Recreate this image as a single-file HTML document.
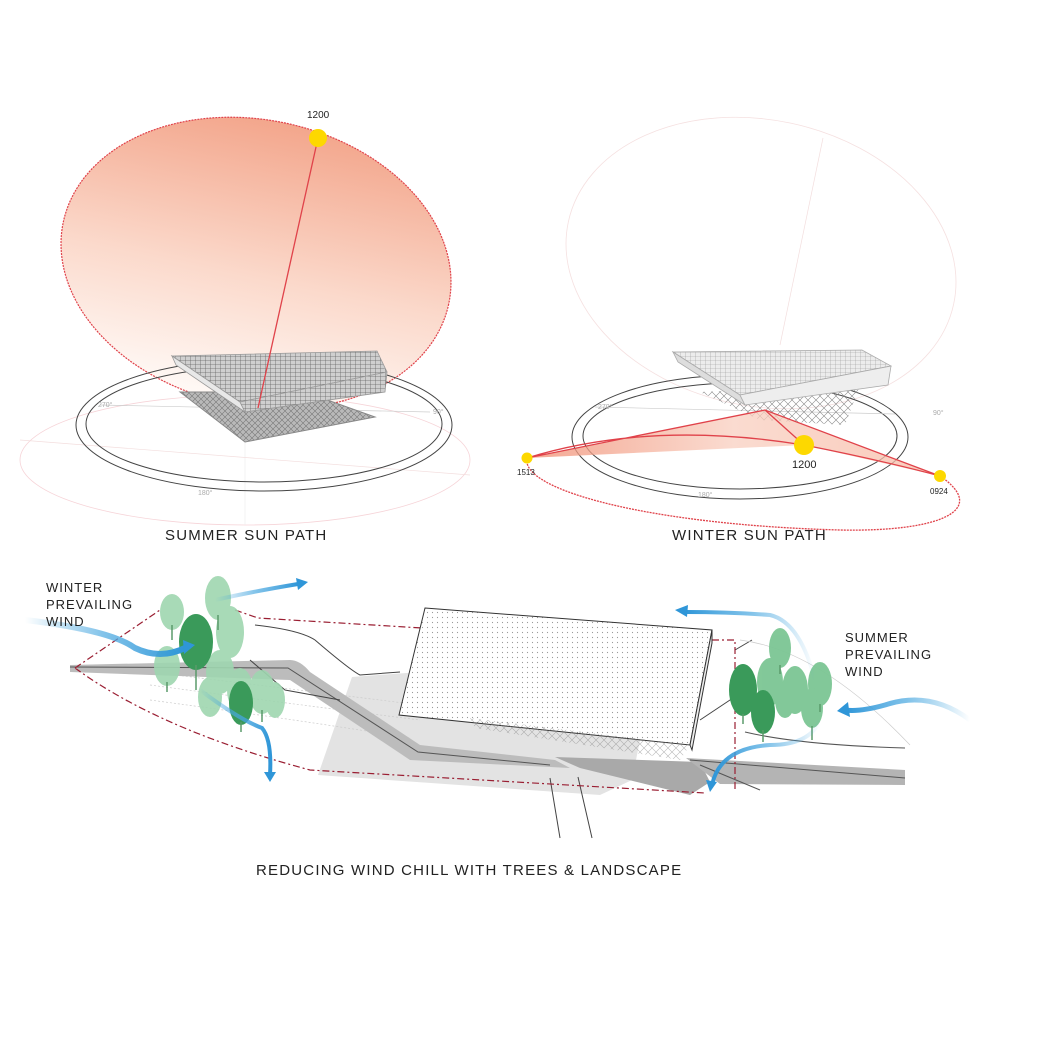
<!DOCTYPE html>
<html><head><meta charset="utf-8"><style>
html,body{margin:0;padding:0;background:#fff;}
svg{display:block;font-family:"Liberation Sans",sans-serif;}
</style></head><body>
<svg width="1040" height="1040" viewBox="0 0 1040 1040" xmlns="http://www.w3.org/2000/svg">
<defs>
<linearGradient id="sg" x1="0" y1="0" x2="0" y2="1">
<stop offset="0" stop-color="#f3a68c"/><stop offset="0.55" stop-color="#fbd9cb"/><stop offset="1" stop-color="#fffaf7"/>
</linearGradient>
<linearGradient id="wg" x1="0" y1="0" x2="1" y2="0">
<stop offset="0" stop-color="#f08a6e"/><stop offset="0.5" stop-color="#f9cfc0"/><stop offset="1" stop-color="#f7b9a4"/>
</linearGradient>
<pattern id="grid" width="5" height="4" patternUnits="userSpaceOnUse">
<rect width="5" height="4" fill="#cfcfcf"/><path d="M0 0H5M0 0V4" stroke="#666" stroke-width="0.8"/>
</pattern>
<pattern id="grid2" width="5" height="4" patternUnits="userSpaceOnUse">
<rect width="5" height="4" fill="#ececec"/><path d="M0 0H5M0 0V4" stroke="#999" stroke-width="0.6"/>
</pattern>
<pattern id="diag" width="6" height="6" patternUnits="userSpaceOnUse">
<rect width="6" height="6" fill="#b9b9b9"/><path d="M0 6L6 0M0 0L6 6" stroke="#777" stroke-width="0.6"/>
</pattern>
<pattern id="dots" width="5" height="5" patternUnits="userSpaceOnUse">
<rect width="5" height="5" fill="#fff"/><circle cx="2.5" cy="2.5" r="0.6" fill="#999"/>
</pattern>
<pattern id="sticks" width="8" height="8" patternUnits="userSpaceOnUse">
<path d="M0 8L8 0M0 0L8 8" stroke="#888" stroke-width="0.6"/>
</pattern>
<linearGradient id="bl" x1="0" y1="0" x2="1" y2="0">
<stop offset="0" stop-color="#3aa0dc" stop-opacity="0"/><stop offset="0.5" stop-color="#4aa8e0" stop-opacity="0.7"/><stop offset="1" stop-color="#2f96d8"/>
</linearGradient>
<linearGradient id="blr" x1="1" y1="0" x2="0" y2="0">
<stop offset="0" stop-color="#3aa0dc" stop-opacity="0"/><stop offset="0.5" stop-color="#4aa8e0" stop-opacity="0.7"/><stop offset="1" stop-color="#2f96d8"/>
</linearGradient>
</defs>

<!-- SUMMER -->
<ellipse cx="245" cy="460" rx="225" ry="65" fill="none" stroke="#f6d4d8" stroke-width="0.8"/>
<line x1="245" y1="395" x2="245" y2="525" stroke="#eee" stroke-width="0.7"/>
<line x1="20" y1="440" x2="470" y2="475" stroke="#f3dede" stroke-width="0.7"/>
<ellipse cx="256" cy="263" rx="197" ry="143" transform="rotate(12 256 263)" fill="url(#sg)" stroke="#e0424a" stroke-width="1.2" stroke-dasharray="2 1"/>
<ellipse cx="264" cy="425" rx="188" ry="66" fill="none" stroke="#444" stroke-width="1"/>
<ellipse cx="264" cy="424" rx="178" ry="58" fill="none" stroke="#444" stroke-width="1"/>
<line x1="100" y1="405" x2="430" y2="412" stroke="#ccc" stroke-width="0.7"/>
<text x="98" y="407" font-size="7" fill="#aaa">270°</text>
<text x="433" y="414" font-size="7" fill="#aaa">90°</text>
<text x="198" y="495" font-size="7" fill="#aaa">180°</text>
<polygon points="180,392 245,442 375,417 305,392" fill="url(#diag)" stroke="#888" stroke-width="1"/>
<polygon points="172,356 377,351 387,372 240,402" fill="url(#grid)" stroke="#999" stroke-width="0.8"/>
<polygon points="172,356 240,402 245,412 176,365" fill="#e8e8e8" stroke="#999" stroke-width="0.8"/>
<polygon points="240,402 387,372 385,392 245,412" fill="url(#grid)" stroke="#999" stroke-width="0.8"/>
<line x1="318" y1="138" x2="258" y2="408" stroke="#e0424a" stroke-width="1.3"/>
<circle cx="318" cy="138" r="9" fill="#fdd800"/>
<text x="307" y="118" font-size="10" fill="#222">1200</text>
<text x="165" y="540" font-size="15" letter-spacing="1.2" fill="#222">SUMMER SUN PATH</text>

<!-- WINTER -->
<ellipse cx="761" cy="263" rx="197" ry="143" transform="rotate(12 761 263)" fill="none" stroke="#f5e0e0" stroke-width="0.8"/>
<line x1="823" y1="138" x2="780" y2="345" stroke="#f3dede" stroke-width="0.7"/>
<ellipse cx="740" cy="437" rx="168" ry="62" fill="none" stroke="#444" stroke-width="1"/>
<ellipse cx="740" cy="436" rx="157" ry="53" fill="none" stroke="#444" stroke-width="1"/>
<line x1="595" y1="407" x2="895" y2="414" stroke="#ccc" stroke-width="0.7"/>
<text x="598" y="409" font-size="7" fill="#aaa">270°</text>
<text x="933" y="415" font-size="7" fill="#aaa">90°</text>
<text x="698" y="497" font-size="7" fill="#aaa">180°</text>
<polygon points="700,392 860,385 845,425 760,420" fill="url(#sticks)"/>
<polygon points="673,352 862,350 891,366 740,395" fill="url(#grid2)" stroke="#aaa" stroke-width="0.8"/>
<polygon points="673,352 740,395 745,405 678,362" fill="#ddd" stroke="#aaa" stroke-width="0.8"/>
<polygon points="740,395 891,366 888,385 745,405" fill="#eee" stroke="#aaa" stroke-width="0.8"/>
<polygon points="527,458 765,410 940,476 804,445" fill="url(#wg)" opacity="0.75"/>
<path d="M527,458 L765,410 L940,476 M765,410 L804,445 M527,458 Q650,420 804,445 Q880,460 940,476" fill="none" stroke="#e0424a" stroke-width="1.3"/>
<path d="M527,458 C520,490 650,525 840,530 C940,532 990,510 940,476" fill="none" stroke="#e0424a" stroke-width="1.3" stroke-dasharray="2 1"/>
<circle cx="527" cy="458" r="5.5" fill="#fdd800"/>
<circle cx="804" cy="445" r="10" fill="#fdd800"/>
<circle cx="940" cy="476" r="6" fill="#fdd800"/>
<text x="517" y="475" font-size="8" fill="#222">1513</text>
<text x="792" y="468" font-size="11" fill="#222">1200</text>
<text x="930" y="494" font-size="8" fill="#222">0924</text>
<text x="672" y="540" font-size="15" letter-spacing="1.2" fill="#222">WINTER SUN PATH</text>

<!-- SITE -->
<polygon points="352,677 420,672 640,740 632,780 600,795 318,775" fill="#e3e3e3"/>
<g fill="none" stroke="#ccc" stroke-width="0.7" stroke-dasharray="2 2">
<path d="M150,672 Q300,690 420,705"/><path d="M150,685 Q300,705 420,720"/><path d="M150,700 Q300,720 410,738"/>
</g>
<path d="M70,665 L290,660 Q300,660 310,672 L420,745 L555,760 L570,768 L410,760 L290,680 L70,672 Z" fill="#bcbcbc"/>
<path d="M70,667 L288,668 L418,752 L550,765" fill="none" stroke="#555" stroke-width="1"/>
<polygon points="555,757 700,762 710,782 690,795 580,768" fill="#a9a9a9"/>
<polygon points="686,758 905,770 905,785 720,784" fill="#b4b4b4"/>
<path d="M690,760 L905,778 M700,765 L760,790" fill="none" stroke="#555" stroke-width="1"/>
<path d="M550,778 L560,838 M578,777 L592,838" fill="none" stroke="#444" stroke-width="1"/>
<path d="M255,625 Q300,630 315,640 Q350,670 360,675 L400,672 M250,660 L285,690 L340,700" fill="none" stroke="#444" stroke-width="1"/>
<path d="M735,650 L752,640 M700,720 L745,690" fill="none" stroke="#444" stroke-width="1"/>
<path d="M740,640 Q820,650 910,745" fill="none" stroke="#ccc" stroke-width="0.7"/>
<path d="M745,732 Q800,745 905,748" fill="none" stroke="#555" stroke-width="1"/>
<path d="M75,668 L160,610 M235,610 L258,618 L422,628 M712,640 L735,640 L735,790 M75,668 Q160,730 310,770 L705,793" fill="none" stroke="#9a1e32" stroke-width="1.2" stroke-dasharray="7 3 2 3"/>
<polygon points="425,608 712,630 690,745 399,715" fill="url(#dots)" stroke="#333" stroke-width="1"/>
<polygon points="712,630 712,643 692,750 690,745" fill="#eee" stroke="#333" stroke-width="1"/>
<polygon points="470,718 690,745 680,760 475,728" fill="url(#sticks)" opacity="0.6"/>

<!-- trees -->
<g>
<g fill="#9fd6b0" opacity="0.9">
<ellipse cx="218" cy="598" rx="13" ry="22"/><ellipse cx="172" cy="612" rx="12" ry="18"/><ellipse cx="230" cy="632" rx="14" ry="26"/>
<ellipse cx="167" cy="666" rx="13" ry="20"/><ellipse cx="220" cy="672" rx="14" ry="22"/><ellipse cx="240" cy="690" rx="13" ry="22"/>
<ellipse cx="262" cy="692" rx="13" ry="22"/><ellipse cx="210" cy="697" rx="12" ry="20"/><ellipse cx="275" cy="700" rx="10" ry="18"/>
</g>
<g fill="#3a9a5a"><ellipse cx="196" cy="642" rx="17" ry="28"/><ellipse cx="241" cy="703" rx="12" ry="22"/></g>
<g fill="#7cc694" opacity="0.95"><ellipse cx="780" cy="648" rx="11" ry="20"/><ellipse cx="770" cy="682" rx="13" ry="24"/><ellipse cx="795" cy="690" rx="13" ry="24"/>
<ellipse cx="820" cy="684" rx="12" ry="22"/><ellipse cx="812" cy="708" rx="11" ry="20"/><ellipse cx="785" cy="700" rx="10" ry="18"/></g>
<g fill="#3a9a5a"><ellipse cx="743" cy="690" rx="14" ry="26"/><ellipse cx="763" cy="712" rx="12" ry="22"/></g>
<g stroke="#5a9a6a" stroke-width="1.5">
<line x1="218" y1="615" x2="218" y2="630"/><line x1="172" y1="625" x2="172" y2="640"/><line x1="196" y1="665" x2="196" y2="690"/>
<line x1="167" y1="682" x2="167" y2="692"/><line x1="241" y1="722" x2="241" y2="732"/><line x1="262" y1="710" x2="262" y2="722"/>
<line x1="780" y1="665" x2="780" y2="674"/><line x1="743" y1="714" x2="743" y2="724"/><line x1="763" y1="730" x2="763" y2="742"/>
<line x1="820" y1="704" x2="820" y2="712"/><line x1="812" y1="726" x2="812" y2="740"/>
</g>
</g>

<!-- wind arrows -->
<path d="M25,620 Q110,630 135,648 Q160,660 185,648" fill="none" stroke="url(#bl)" stroke-width="6" stroke-linecap="round"/>
<polygon points="183,640 195,645 184,654" fill="#2f96d8"/>
<path d="M215,600 Q250,592 298,584" fill="none" stroke="url(#bl)" stroke-width="4"/>
<polygon points="296,578 308,582 298,590" fill="#2f96d8"/>
<path d="M200,690 Q240,720 262,728 Q272,740 270,775" fill="none" stroke="url(#bl)" stroke-width="4"/>
<polygon points="264,772 276,772 270,782" fill="#2f96d8"/>
<path d="M970,720 Q930,690 885,705 Q860,712 845,710" fill="none" stroke="url(#blr)" stroke-width="5"/>
<polygon points="848,702 837,711 850,717" fill="#2f96d8"/>
<path d="M815,680 Q800,622 770,615 Q730,612 685,612" fill="none" stroke="url(#blr)" stroke-width="4"/>
<polygon points="688,605 675,610 687,617" fill="#2f96d8"/>
<path d="M820,720 Q810,745 770,745 Q720,748 712,785" fill="none" stroke="url(#blr)" stroke-width="4"/>
<polygon points="706,780 710,792 717,782" fill="#2f96d8"/>

<g font-size="13" letter-spacing="1" fill="#222">
<text x="46" y="592">WINTER</text><text x="46" y="609">PREVAILING</text><text x="46" y="626">WIND</text>
<text x="845" y="642">SUMMER</text><text x="845" y="659">PREVAILING</text><text x="845" y="676">WIND</text>
</g>
<text x="256" y="875" font-size="15" letter-spacing="1.2" fill="#222">REDUCING WIND CHILL WITH TREES &amp; LANDSCAPE</text>
</svg>
</body></html>
